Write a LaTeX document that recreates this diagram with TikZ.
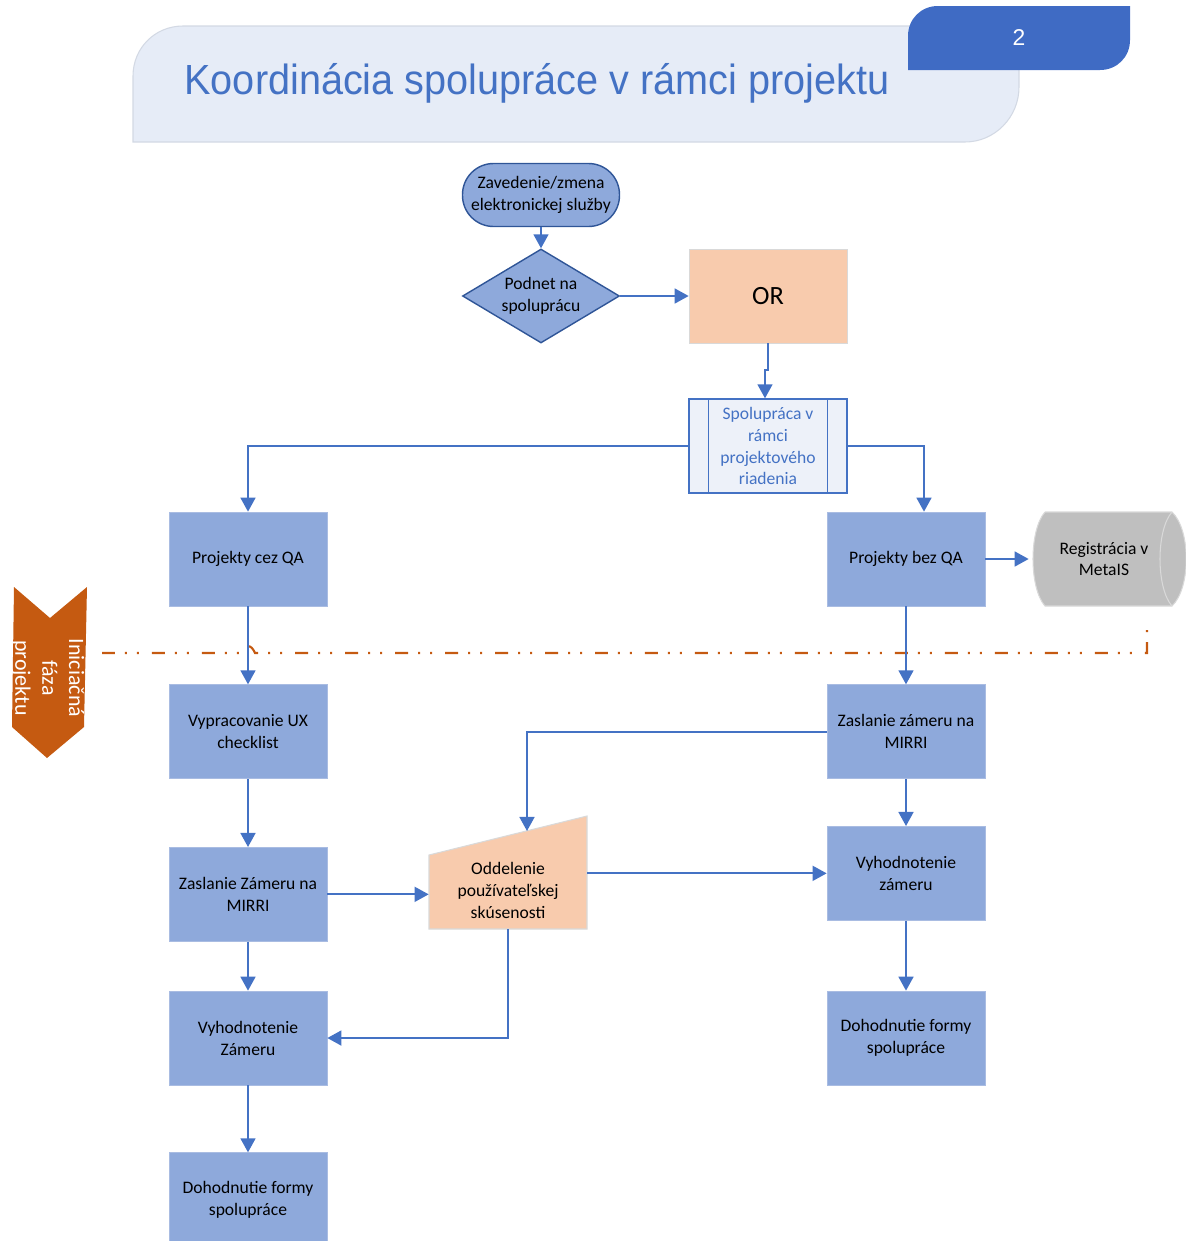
\documentclass[tikz,border=0pt]{standalone}
\usepackage{fontspec}
\setmainfont{Carlito}
\newfontfamily\titlefont{Liberation Sans}
\usetikzlibrary{positioning,calc,arrows.meta,shapes.geometric}

\definecolor{boxblue}{HTML}{8EA9DB}
\definecolor{boxline}{HTML}{A9BCE2}
\definecolor{darkline}{HTML}{2F5597}
\definecolor{flowblue}{HTML}{4472C4}
\definecolor{peach}{HTML}{F8CBAD}
\definecolor{phasecol}{HTML}{C55A11}
\definecolor{titlebg}{HTML}{E6ECF7}
\definecolor{titleline}{HTML}{D3D9E4}
\definecolor{tabblue}{HTML}{3F6BC4}
\definecolor{procbg}{HTML}{EDF1F9}
\definecolor{cylgray}{HTML}{BFBFBF}

\tikzset{
  box/.style={shape=rectangle, fill=boxblue, draw=boxline, minimum width=3.16cm,
    minimum height=1.88cm, align=center, inner sep=1pt},
  startbox/.style={shape=rectangle, rounded corners=0.62cm, fill=boxblue, draw=darkline,
    line width=0.8pt, minimum width=3.14cm, minimum height=1.26cm, align=center, inner sep=1pt},
  decision/.style={shape=diamond, aspect=1.67, fill=boxblue, draw=darkline, line width=0.8pt,
    minimum width=3.14cm, minimum height=1.88cm, align=center, inner sep=0pt},
  flow/.style={-{Triangle[length=8pt,width=8.5pt]}, draw=flowblue, line width=1.1pt},
  phaseline/.style={draw=phasecol, line width=1.2pt,
    dash pattern=on 0.26cm off 0.2cm on 0.04cm off 0.2cm on 0.04cm off 0.26cm},
}

\begin{document}
\begin{tikzpicture}[x=0.02cm, y=-0.02cm, node distance=1.5cm,
  font=\fontsize{10}{12.5}\selectfont]
    \useasboundingbox (0,0) rectangle (1186,1241);
    % title
    \filldraw[fill=titlebg, draw=titleline, line width=0.6pt] (133,142) -- (133,76)
      .. controls (133,48) and (155,26) .. (183,26) -- (1019,26) -- (1019,87)
      .. controls (1019,117) and (995,142) .. (965,142) -- cycle;
    \fill[tabblue] (908,70) -- (908,36) .. controls (908,19) and (921,6) .. (938,6)
      -- (1130,6) -- (1130,40) .. controls (1130,57) and (1117,70) .. (1100,70) -- cycle;
    \node[text=flowblue, font=\titlefont\fontsize{24}{28}\selectfont, xscale=0.94] (title)
      at (537,83) {Koordinácia spolupráce v rámci projektu};
    \node[text=white, font=\titlefont\fontsize{13}{15}\selectfont] (pagenum) at (1019,38) {2};
    %
    \node[startbox] (zav) at (541,195) {Zavedenie/zmena\\elektronickej služby};
    \node[decision] (podnet) at (541,296) {Podnet na\\spoluprácu};
    \node[box, fill=peach, draw=black!15, font=\fontsize{15}{18}\selectfont] (or) at (768,296) {OR};
    \node[box, fill=procbg, draw=flowblue, line width=0.8pt, text=flowblue] (proc) at (768,446)
      {Spolupráca v\\rámci\\projektového\\riadenia};
    \draw[flowblue, line width=0.8pt] ([xshift=0.4cm]proc.north west) -- ([xshift=0.4cm]proc.south west);
    \draw[flowblue, line width=0.8pt] ([xshift=-0.4cm]proc.north east) -- ([xshift=-0.4cm]proc.south east);
    %
    \node[box] (cezqa) at (248,559) {Projekty cez QA};
    \node[box, below=1.56cm of cezqa] (uxlist) {Vypracovanie UX\\checklist};
    \node[box, below=1.36cm of uxlist] (zamerl) {Zaslanie Zámeru na\\MIRRI};
    \node[box, below=0.98cm of zamerl] (vyhl) {Vyhodnotenie\\Zámeru};
    \node[box, below=1.34cm of vyhl] (dohl) {Dohodnutie formy\\spolupráce};
    %
    \node[box] (bezqa) at (906,559) {Projekty bez QA};
    \node[box, below=1.56cm of bezqa] (zamerr) {Zaslanie zámeru na\\MIRRI};
    \node[box, below=0.94cm of zamerr] (vyhr) {Vyhodnotenie\\zámeru};
    \node[box, below=1.4cm of vyhr] (dohr) {Dohodnutie formy\\spolupráce};
    %
    \filldraw[fill=cylgray, draw=black!15, line width=0.6pt] (1045,512) -- (1172,512)
      .. controls (1191,530) and (1191,588) .. (1172,606) -- (1045,606)
      .. controls (1029,588) and (1029,530) .. (1045,512);
    \draw[black!15, line width=0.6pt] (1172,512) .. controls (1156,530) and (1156,588) .. (1172,606);
    \node[minimum width=3.0cm, minimum height=1.88cm, align=center, inner sep=0pt] (metais)
      at (1104,559) {Registrácia v\\MetaIS};
    %
    \filldraw[fill=peach, draw=black!15, line width=0.6pt] (429,929) -- (429,855) -- (587,816) -- (587,929) -- cycle;
    \node[minimum width=3.16cm, minimum height=1.56cm, align=center, inner sep=0pt] (ux)
      at (508,890) {Oddelenie\\používateľskej\\skúsenosti};
    \coordinate (uxtop) at (527,831);
    %
    \fill[phasecol] (14,587) -- (50,618) -- (87,587) -- (84,727) -- (47,758) -- (12,727) -- cycle;
    \node[rotate=-90, text=white, align=center, font=\fontsize{12.5}{15.3}\selectfont] (phase)
      at (48,678) {Iniciačná\\fáza\\projektu};
    \draw[phaseline] (102,653) -- (243,653) .. controls (246,644) and (251,644) .. (255,653)
      -- (1147,653) -- (1147,630);
    %
    \draw[flow] (zav) -- (podnet);
    \draw[flow] (podnet) -- (or);
    \draw[flow] (or.south) -- ++(0,27) -| ([xshift=-0.06cm]proc.north);
    \draw[flow] (proc.west) -| (cezqa.north);
    \draw[flow] (proc.east) -| ([xshift=0.36cm]bezqa.north);
    \draw[flow] (bezqa) -- (metais);
    %
    \draw[flow] (cezqa) -- (uxlist);
    \draw[flow] (uxlist) -- (zamerl);
    \draw[flow] (zamerl) -- (vyhl);
    \draw[flow] (vyhl) -- (dohl);
    \draw[flow] (bezqa) -- (zamerr);
    \draw[flow] (zamerr) -- (vyhr);
    \draw[flow] (vyhr) -- (dohr);
    %
    \draw[flow] (zamerr.west) -| (uxtop);
    \draw[flow] (zamerl.east) -- (zamerl.east -| ux.west);
    \draw[flow] (ux.east |- vyhr.west) -- (vyhr.west);
    \draw[flow] (ux.south) |- (vyhl.east);
\end{tikzpicture}
\end{document}
